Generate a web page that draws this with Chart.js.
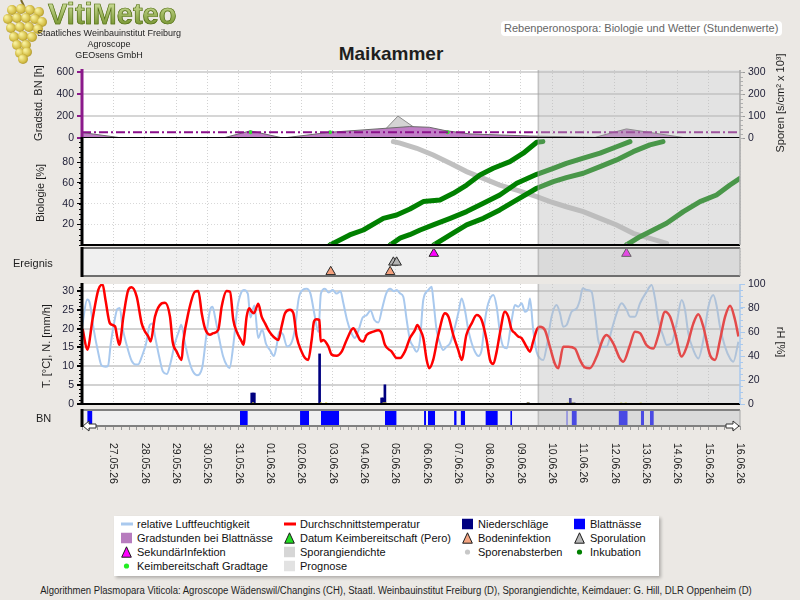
<!DOCTYPE html>
<html lang="de">
<head>
<meta charset="utf-8">
<title>Maikammer - Rebenperonospora</title>
<script src="https://cdn.jsdelivr.net/npm/chart.js@4.4.1/dist/chart.umd.min.js"></script>
<style>
    html, body { margin: 0; padding: 0; background: #ebe8e4; }
    #page { position: relative; width: 800px; height: 600px; overflow: hidden; background: #ebe8e4;
            font-family: "Liberation Sans", Arial, sans-serif; color: #1e1e1e; }
    #page canvas { position: absolute; left: 0; }
    .t { position: absolute; white-space: nowrap; line-height: 1; }
    .ccw { transform: translate(-50%, -50%) rotate(-90deg); }
    .cw { transform: translate(-50%, -50%) rotate(90deg); }
    .mid { transform: translate(0, -50%); }
    .ctr { transform: translate(-50%, -50%); }
    #logo-title { left: 48px; top: 0; font-size: 29px; font-weight: bold;
                  background: linear-gradient(#d6e6a4, #6a8a20); -webkit-background-clip: text; background-clip: text;
                  color: transparent; -webkit-text-stroke: 0.7px #55701a; }
    .logo-sub { font-size: 9px; }
    #subtitle { left: 501px; top: 21px; width: 281px; height: 15px; background: #fff; border-radius: 4px;
                font-size: 11px; color: #666; line-height: 15px; padding-left: 3px; box-sizing: border-box; }
    #title { left: 391px; top: 53px; font-size: 19px; font-weight: bold; }
    .axis-title { font-size: 11px; }
    #legend { position: absolute; left: 114px; top: 516px; width: 545px; height: 60px; background: #fff;
              box-shadow: 2px 2px 3px rgba(0, 0, 0, 0.25); }
    .lg { position: absolute; font-size: 11px; white-space: nowrap; line-height: 1; color: #111; }
    .lg svg { display: block; }
    #footer { left: 396px; top: 591px; font-size: 10px; }
</style>
</head>
<body>
<div id="page">
    <canvas id="grapes" width="50" height="64" style="top:0"></canvas>
    <div class="t" id="logo-title">VitiMeteo</div>
    <div class="t logo-sub ctr" style="left:109px;top:33px">Staatliches Weinbauinstitut Freiburg</div>
    <div class="t logo-sub ctr" style="left:109px;top:44px">Agroscope</div>
    <div class="t logo-sub ctr" style="left:109px;top:55px">GEOsens GmbH</div>
    <div class="t" id="subtitle">Rebenperonospora: Biologie und Wetter (Stundenwerte)</div>
    <div class="t ctr" id="title">Maikammer</div>
    <div id="legend"></div>
    <div class="t" id="footer">Algorithmen Plasmopara Viticola: Agroscope Wädenswil/Changins (CH), Staatl. Weinbauinstitut Freiburg (D), Sporangiendichte, Keimdauer: G. Hill, DLR Oppenheim (D)</div>
</div>
<script>
// x axis: hours since 26.05.26 00:00
const HOURS_TOTAL = 504;
const PROGNOSE_START = 349;
const dayLabels = ['27.05.26', '28.05.26', '29.05.26', '30.05.26', '31.05.26', '01.06.26', '02.06.26',
    '03.06.26', '04.06.26', '05.06.26', '06.06.26', '07.06.26', '08.06.26', '09.06.26', '10.06.26',
    '11.06.26', '12.06.26', '13.06.26', '14.06.26', '15.06.26', '16.06.26'];

// y tick labels
const gradTicks = [0, 200, 400, 600];
const sporTicks = [0, 100, 200, 300];
const bioTicks = [20, 40, 60, 80];
const tempTicks = [0, 5, 10, 15, 20, 25, 30];
const rhTicks = [0, 20, 40, 60, 80, 100];

// Gradstunden bei Blattnaesse [h]
const gradHours = [0, 31, 108, 129, 154, 190, 226, 251, 266, 278, 297, 343, 393, 417, 463, 504];
const gradValues = [50, 0, 0, 65, 0, 52, 83, 104, 98, 68, 37, 18, 6, 83, 0, 0];
const gradThreshold = 52;
// Sporangiendichte [s/cm2 x 10^3]
const sporHours = [226, 242, 266];
const sporValues = [0, 100, 0];
const keimGradHours = [129, 190, 280];

// Inkubation [%]
const inc1Hours = [190, 205, 215.5, 230.8, 241, 251.2, 261.4, 274.2, 284.4, 294.6, 304.8, 315, 327.8, 338, 348.3, 353];
const inc1Values = [0, 9.7, 14.5, 25.8, 29, 34.8, 42, 43.5, 50, 58, 67.8, 74.2, 80.6, 88.8, 99.4, 100];
const inc2Hours = [236, 244, 251, 259, 269, 282, 294.6, 307.4, 320, 333, 348.3, 361, 371, 384, 396.8, 409.5, 419.7];
const inc2Values = [0, 7, 10, 14.5, 19.4, 25.8, 32.3, 40.3, 48.4, 59.7, 68.4, 74.2, 79, 84, 88.8, 95, 100];
const inc3Hours = [269.5, 282, 294.6, 307.4, 320, 333, 348.3, 361, 371, 384, 396.8, 409.5, 422.2, 435, 445];
const inc3Values = [0, 9.7, 19.4, 25.8, 33.9, 43.6, 54.9, 61.3, 65.2, 69.4, 75.8, 82.3, 90.3, 96.8, 100];
const inc4Hours = [417, 427.4, 437.6, 447.8, 460.6, 473.4, 486, 496.3, 504];
const inc4Values = [0, 8, 14.5, 21, 32.3, 42, 48.4, 58, 64.5];
// Sporenabsterben [%]
const dieHours = [238.5, 243.6, 256.4, 269, 282, 294.6, 307.4, 320, 333, 348.3, 358.5, 371, 384, 396.8, 409.5, 422.2, 435, 447.8];
const dieValues = [100, 98.5, 93.6, 87, 79, 71, 64.5, 58, 53, 46.8, 42, 37, 32.3, 25.8, 19.4, 11.3, 6.5, 1.6];

// Ereignisse
const keimDateHours = [190, 236, 269.5, 417];
const bodenHours = [190.5, 236];
const sporulationHours = [238.5, 241];
const sekundaerHours = [269.5, 417];

// Durchschnittstemperatur [°C]
const tempHours = [0.5, 4.1, 8, 12.5, 15.8, 18, 21.4, 25.3, 27.1, 28.6, 31.7, 35.5, 38, 41.9, 45.7, 48.3, 50.8, 52.6,
    55.9, 61, 63.6, 67.4, 69.4, 72.5, 76.3, 77.6, 81.4, 86.5, 89.1, 91.7, 94.2, 98, 100.6, 104.4, 107, 110.8, 113.4,
    115.9, 118.5, 122.3, 123.6, 126.1, 128.2, 129.9, 131.7, 135, 137.6, 140.2, 142.7, 145.3, 147.8, 150.4, 152.9,
    155.5, 159.3, 161.9, 164.4, 168.2, 170.8, 173.3, 175.9, 177.7, 179.7, 181.8, 182.8, 184.8, 188.7, 191.2, 195,
    198.9, 202.7, 207.8, 210.4, 212.9, 215.5, 218, 223.1, 227, 229.5, 232, 237.2, 241, 243.6, 247.4, 251.2, 255,
    256.8, 258.9, 261.4, 264, 266, 269, 272.9, 278, 280.6, 284.4, 288.2, 290.8, 294.4, 298.5, 302.3, 306.1, 309.9,
    312.5, 315, 317.6, 320.1, 323.9, 326.5, 329, 331.6, 334.1, 336.7, 340.5, 343.1, 345.6, 348.2, 350.7, 354.6,
    358.4, 362.3, 364.8, 368.6, 372.5, 377.6, 381.4, 385.2, 389, 394.2, 399.3, 401.8, 406.9, 412, 414.6, 419.7,
    423.5, 427.4, 432.5, 437.6, 441.5, 446.6, 450.4, 454.3, 459.3, 463.2, 468.3, 472.1, 475.9, 481, 484.9, 488.7,
    492.6, 496.4, 500.2, 502.8];
const tempValues = [19.9, 14.4, 22.3, 30.3, 31.7, 27.6, 21.4, 20.6, 17.5, 15.7, 23.2, 30.3, 31, 28.5, 21.4, 19.2, 17.9,
    16.6, 23.2, 26.7, 26.9, 23.2, 16.6, 13.9, 11.7, 16.6, 24.1, 29.8, 30, 24.1, 20.1, 18.4, 18.8, 19.7, 25.9, 30, 29.8,
    22.3, 19.2, 16.6, 15.7, 23.2, 25.4, 24.5, 24.1, 26.6, 23.2, 21.4, 19.7, 18.4, 17.5, 17, 20.6, 24.1, 25, 24.1, 17.9,
    13.9, 12.2, 11.7, 17, 21.9, 22.5, 22.3, 16.6, 17, 15.3, 13.1, 12.8, 13.9, 17, 20.1, 18.7, 17, 16.6, 18.3, 19.2,
    19.6, 18.8, 15.7, 13.9, 12.2, 12.2, 14, 17.5, 19.6, 21, 19.8, 17.5, 11.7, 9.5, 11.7, 18.3, 24.1, 23.2, 18.3, 14.3,
    11.7, 18.3, 21.4, 23.6, 22.3, 17, 11.7, 10.6, 13.9, 18.8, 24.5, 23.2, 19.8, 18.8, 17.9, 17.5, 15.2, 13.9, 16.6,
    19.6, 20.5, 19.6, 15.2, 10.6, 9.5, 15.2, 15.2, 14.7, 11.7, 9.7, 9.5, 12.6, 17.4, 18.3, 16.1, 12.1, 11.2, 15.6,
    19.2, 18.8, 15.6, 14.7, 18.3, 24.5, 23.2, 18.8, 12.6, 15.2, 21.4, 23.8, 20.5, 13, 11.7, 17, 23.2, 26.1, 22.3, 17.9];

// relative Luftfeuchtigkeit [%]
const rhHours = [0, 4, 6, 9, 12, 15, 18, 20, 22, 25, 27, 29, 31, 34, 38, 41, 43, 46, 49, 52, 54, 56, 59, 62, 65, 68,
    71, 74, 76, 79, 82, 85, 88, 92, 95, 98, 100, 102, 105, 108, 111, 113, 116, 119, 122, 124, 127, 129, 132, 135,
    138, 141, 144, 147, 149, 151, 154, 157, 160, 163, 166, 169, 172, 175, 178, 181, 183, 186, 189, 192, 195, 198,
    200, 203, 206, 209, 212, 215, 218, 221, 224, 227, 230, 233, 236, 239, 241, 243.6, 246.1, 248.7, 251.2, 253.8,
    256.3, 258.9, 261.4, 265.3, 267.8, 269.1, 271.6, 274.2, 276.7, 279.3, 281.9, 284.4, 288.2, 290.8, 293.3, 295.9,
    298.5, 301, 303.6, 306.1, 308.7, 311.2, 315.1, 317.6, 320.2, 322.7, 325.3, 329.1, 331.6, 334.2, 336.7, 339.3,
    341.8, 343.1, 345.6, 348.2, 350.8, 353.3, 355.9, 359.7, 363.5, 366.1, 368.6, 371.2, 375, 378.9, 381.4, 383.5,
    386.5, 390.3, 392.9, 395.4, 398, 401.8, 405.7, 409.5, 413.3, 417.2, 419.7, 423.6, 427.4, 432.5, 436.3, 438.9,
    441.4, 445.3, 447.8, 451.6, 455.5, 459.3, 461.9, 464.4, 468.3, 472.1, 475.9, 479.8, 483.6, 486.2, 488.7, 492.5,
    496.4, 498.9, 502.8];
const rhValues = [64, 87, 84, 62, 45, 32, 31, 32, 50, 70, 79, 80, 64, 50, 36, 33, 33, 40, 50, 66, 67, 56, 40, 27, 25,
    35, 50, 60, 66, 50, 36, 27, 24, 30, 55, 78, 81, 72, 55, 40, 32, 30, 50, 80, 93, 95, 92, 72, 82, 55, 62, 50, 45, 40,
    48, 60, 58, 48, 50, 62, 88, 95, 96, 92, 75, 60, 92, 96, 93, 95, 92, 94, 85, 70, 60, 55, 62, 72, 74, 78, 70, 68, 80,
    92, 96, 94, 95, 92.2, 89.4, 70, 53.3, 47.8, 43.6, 53.3, 86.7, 95, 97.8, 86.7, 61.7, 50.6, 45, 47.8, 50.6, 58.9,
    75.6, 88, 78.3, 61.7, 50.6, 43.6, 40, 45, 70, 83.9, 90.8, 81.1, 58.9, 47.8, 46.4, 70, 82.5, 81.1, 83.9, 76.9, 79.7,
    88, 61.7, 43.6, 38, 36.7, 47.8, 72.8, 82.5, 75.6, 64.4, 65.8, 76.9, 79.7, 86.7, 96.4, 95, 93.6, 75.6, 53.3, 47.8,
    47.8, 61.7, 75.6, 83.9, 78.3, 72.8, 72.8, 83.9, 93.6, 99.2, 88, 70, 56.4, 49.2, 50.6, 67.5, 86.7, 78.3, 58.9, 45,
    38, 53.3, 81.1, 90.8, 81.1, 64.4, 47.8, 38, 35.3, 51.9];

// Niederschlaege [mm/h]
const rainHours = [130, 131, 132, 182, 229.5, 230.5, 232, 341.7, 374, 375, 376, 377];
const rainValues = [2.9, 2.9, 2.9, 13.3, 1.6, 1.6, 5.1, 0.4, 1.5, 0.3, 0.3, 0.3];
const keimMarkHours = [131, 183, 187, 231, 232.5, 341.7, 372, 376, 413, 416.5, 428];

// Blattnaesse, intervals in hours
const bnFrom = [4, 121, 167, 183, 232, 262, 265, 285, 290, 309, 328, 371, 375, 411, 428, 435];
const bnTo = [8, 127, 174, 197, 241, 263.5, 270.5, 287, 293.5, 318.5, 329.5, 372, 379, 418, 430.5, 438];

const FONT = '"Liberation Sans", Arial, sans-serif';
Chart.defaults.font.family = FONT;
Chart.defaults.font.size = 10.5;
Chart.defaults.color = '#1c1c34';
Chart.defaults.elements.point.radius = 0;

const page = document.getElementById('page');
const pts = (hours, values) => hours.map((h, i) => ({x: h, y: values[i]}));
const flat = (hours, value) => hours.map(h => ({x: h, y: value}));
const fixedTicks = list => s => { s.ticks = list.map(value => ({value})); };

// background, prognose overlay, minor ticks and axis frame for every panel
const panelPlugin = {
    id: 'panel',
    defaults: {background: '#ffffff', frame: {}, minor: []},
    beforeDraw(chart, args, opts) {
        const {ctx, chartArea: a} = chart;
        ctx.save();
        ctx.fillStyle = opts.background;
        ctx.fillRect(a.left, a.top, a.width, a.height);
        ctx.restore();
    },
    afterDatasetsDraw(chart, args, opts) {
        const {ctx, chartArea: a} = chart;
        const px = chart.scales.x.getPixelForValue(PROGNOSE_START);
        ctx.save();
        ctx.fillStyle = 'rgba(185, 185, 185, 0.4)';
        ctx.fillRect(px, a.top, a.right - px, a.height);
        ctx.fillStyle = 'rgba(150, 150, 150, 0.45)';
        ctx.fillRect(px, a.top, 1.5, a.height);

        opts.minor.forEach(m => {
            const s = chart.scales[m.axis];
            const x0 = s.position === 'left' ? a.left : a.right;
            const dir = s.position === 'left' ? -1 : 1;
            ctx.strokeStyle = m.color;
            ctx.lineWidth = 1;
            for (let v = s.min; v <= s.max + 1e-9; v += m.step) {
                const y = Math.round(s.getPixelForValue(v)) + 0.5;
                ctx.beginPath();
                ctx.moveTo(x0, y);
                ctx.lineTo(x0 + dir * m.length, y);
                ctx.stroke();
            }
        });

        const f = opts.frame;
        const line = (side, x1, y1, x2, y2) => {
            if (!f[side]) return;
            ctx.strokeStyle = f[side][0];
            ctx.lineWidth = f[side][1];
            ctx.beginPath();
            ctx.moveTo(x1, y1);
            ctx.lineTo(x2, y2);
            ctx.stroke();
        };
        line('top', a.left, a.top, a.right, a.top);
        line('bottom', a.left, a.bottom, a.right, a.bottom);
        line('right', a.right, a.top, a.right, a.bottom);
        line('left', a.left, a.top - 1, a.left, a.bottom + 1);
        ctx.restore();
    }
};
Chart.register(panelPlugin);

const dateLabelPlugin = {
    id: 'dateLabels',
    afterDraw(chart) {
        const {ctx, chartArea} = chart;
        const x = chart.scales.x;
        ctx.save();
        ctx.font = '10.5px ' + FONT;
        ctx.fillStyle = '#1c1c1c';
        ctx.textBaseline = 'middle';
        dayLabels.forEach((label, i) => {
            ctx.save();
            ctx.translate(x.getPixelForValue(24 * (i + 1)), chartArea.bottom + 17);
            ctx.rotate(Math.PI / 2);
            ctx.fillText(label, 0, 0);
            ctx.restore();
        });
        ctx.restore();
    }
};

function dayAxis() {
    return {
        type: 'linear', min: 0, max: HOURS_TOTAL, offset: false,
        afterFit: s => { s.height = 0; },
        ticks: {display: false, stepSize: 24},
        grid: {color: '#d2d2d2', lineWidth: 1, drawTicks: false, offset: false},
        border: {display: false, dash: [1, 2]}
    };
}

function makePanel(top, height, padding, datasets, scales, panel, plugins) {
    const canvas = document.createElement('canvas');
    canvas.width = 800;
    canvas.height = height;
    canvas.style.top = top + 'px';
    page.appendChild(canvas);
    return new Chart(canvas, {
        type: 'line',
        data: {datasets},
        options: {
            responsive: false,
            animation: false,
            events: [],
            layout: {padding},
            plugins: {legend: {display: false}, tooltip: {enabled: false}, panel},
            scales
        },
        plugins: plugins || []
    });
}

// Gradstunden / Sporangiendichte
makePanel(58, 90, {top: 12, bottom: 10, left: 0, right: 0}, [
    {data: [{x: 0, y: gradThreshold}, {x: HOURS_TOTAL, y: gradThreshold}], borderColor: '#8b0f8b',
        borderWidth: 2, borderDash: [9, 3, 2, 3]},
    {data: flat(keimGradHours, gradThreshold), showLine: false, pointRadius: 2, pointBackgroundColor: '#33dd33',
        pointBorderWidth: 0},
    {data: pts(gradHours, gradValues), fill: 'origin', backgroundColor: '#c07fc6', borderColor: '#6c6c6c', borderWidth: 1},
    {data: pts(sporHours, sporValues), yAxisID: 'y1', fill: 'origin', backgroundColor: '#d4d4d4',
        borderColor: '#8c8c8c', borderWidth: 1}
], {
    x: dayAxis(),
    y: {
        position: 'left', min: 0, max: 620,
        afterFit: s => { s.width = 82; },
        afterBuildTicks: fixedTicks(gradTicks),
        grid: {color: c => c.tick.value > 0 ? '#d6d6d6' : 'transparent', lineWidth: 2,
            tickColor: '#8b1a8b', tickLength: 5, tickWidth: 2},
        border: {display: false}
    },
    y1: {
        position: 'right', min: 0, max: 310,
        afterFit: s => { s.width = 60; },
        afterBuildTicks: fixedTicks(sporTicks),
        grid: {drawOnChartArea: false, tickColor: '#9a9a9a', tickLength: 5},
        border: {display: false}
    }
}, {
    frame: {left: ['#8b1a8b', 3], bottom: ['#000', 2], right: ['#a8a8a8', 1.5]},
    minor: [{axis: 'y1', step: 20, length: 3, color: '#b0b0b0'}]
});

// Biologie
const incubationStyle = {borderColor: '#008000', borderWidth: 5, borderCapStyle: 'round', borderJoinStyle: 'round'};
makePanel(128, 127, {top: 10, bottom: 10, left: 0, right: 60}, [
    {data: flat(keimDateHours, 0), showLine: false, pointStyle: 'triangle', pointRadius: 3,
        pointBackgroundColor: '#cc33cc', pointBorderColor: '#22aa22', pointBorderWidth: 1},
    {data: pts(inc1Hours, inc1Values), ...incubationStyle},
    {data: pts(inc2Hours, inc2Values), ...incubationStyle},
    {data: pts(inc3Hours, inc3Values), ...incubationStyle},
    {data: pts(inc4Hours, inc4Values), ...incubationStyle},
    {data: pts(dieHours, dieValues), borderColor: '#c0c0c0', borderWidth: 5, borderCapStyle: 'round'}
], {
    x: dayAxis(),
    y: {
        position: 'left', min: 0, max: 103.5,
        afterFit: s => { s.width = 82; },
        afterBuildTicks: fixedTicks(bioTicks),
        grid: {color: '#d8d8d8', tickColor: '#000', tickLength: 5},
        border: {display: false, dash: [1, 2]}
    }
}, {
    frame: {left: ['#000', 3], bottom: ['#000', 2], right: ['#a8a8a8', 1.5]},
    minor: [{axis: 'y', step: 5, length: 3, color: '#000'}]
});

// Ereignis
const eventStyle = {showLine: false, pointStyle: 'triangle', pointRadius: 5.5, pointBorderColor: '#2a2a2a', pointBorderWidth: 1};
makePanel(240, 44, {top: 8, bottom: 8, left: 82, right: 60}, [
    {data: flat(sekundaerHours, 3.2), pointBackgroundColor: '#ff00ff', ...eventStyle},
    {data: flat(sporulationHours, 1.95), pointBackgroundColor: '#b4b4b4', ...eventStyle},
    {data: flat(bodenHours, 0.6), pointBackgroundColor: '#f4a07c', ...eventStyle}
], {
    x: dayAxis(),
    y: {display: false, min: 0, max: 4}
}, {background: '#f0f0f0', frame: {left: ['#000', 3], top: ['#6e6e6e', 2], bottom: ['#6e6e6e', 2], right: ['#a8a8a8', 1]}});

// Wetter
makePanel(274, 140, {top: 10, bottom: 10, left: 0, right: 0}, [
    {data: flat(keimMarkHours, 0.15), showLine: false, pointStyle: 'rect', pointRadius: 1.5,
        pointBackgroundColor: '#d8d040', pointBorderWidth: 0},
    {type: 'bar', data: pts(rainHours, rainValues), backgroundColor: '#000080', barThickness: 2, grouped: false},
    {data: pts(tempHours, tempValues), borderColor: '#ff0000', borderWidth: 2.5, cubicInterpolationMode: 'monotone'},
    {data: pts(rhHours, rhValues), yAxisID: 'y1', borderColor: '#a9c9ee', borderWidth: 2, cubicInterpolationMode: 'monotone'}
], {
    x: dayAxis(),
    y: {
        position: 'left', min: 0, max: 31.85,
        afterFit: s => { s.width = 82; },
        afterBuildTicks: fixedTicks(tempTicks),
        grid: {color: c => c.tick.value > 0 ? '#d2d2d2' : 'transparent', lineWidth: 2, tickColor: '#000', tickLength: 5},
        border: {display: false}
    },
    y1: {
        position: 'right', min: 0, max: 100,
        afterFit: s => { s.width = 60; },
        afterBuildTicks: fixedTicks(rhTicks),
        grid: {drawOnChartArea: false, tickColor: '#a9c9ee', tickLength: 5},
        border: {display: false}
    }
}, {
    frame: {left: ['#000', 3], bottom: ['#000', 2], right: ['#a9c9ee', 1.5]},
    minor: [{axis: 'y', step: 1, length: 3, color: '#000'}, {axis: 'y1', step: 5, length: 3, color: '#a9c9ee'}]
});

// Blattnaesse
const bnPoints = [];
bnFrom.forEach((from, i) => {
    bnPoints.push({x: from, y: 1}, {x: bnTo[i], y: 1}, {x: bnTo[i], y: null});
});
makePanel(400, 100, {top: 10, bottom: 69, left: 82, right: 60}, [
    {data: bnPoints, fill: 'origin', backgroundColor: '#0000ff', borderWidth: 0, spanGaps: false}
], {
    x: {
        type: 'linear', min: 0, max: HOURS_TOTAL, offset: false,
        afterFit: s => { s.height = 5; },
        ticks: {display: false, stepSize: 6},
        grid: {drawOnChartArea: false, drawTicks: true, tickLength: 4, tickColor: '#9a9a9a', offset: false},
        border: {display: false}
    },
    y: {display: false, min: 0, max: 1}
}, {background: '#f0f0f0', frame: {left: ['#000', 3], top: ['#808080', 2], bottom: ['#808080', 2], right: ['#a8a8a8', 1]}},
[dateLabelPlugin]);

// texts around the panels
function addText(text, left, top, cls) {
    const el = document.createElement('div');
    el.className = 't ' + cls;
    el.textContent = text;
    el.style.left = left + 'px';
    el.style.top = top + 'px';
    page.appendChild(el);
    return el;
}
addText('Gradstd. BN [h]', 38, 103, 'axis-title ccw');
addText('Sporen [s/cm² x 10³]', 780, 103, 'axis-title ccw');
addText('Biologie [%]', 40, 193, 'axis-title ccw');
addText('Ereignis', 13, 263, 'axis-title mid');
addText('T. [°C], N. [mm/h]', 46, 346, 'axis-title ccw');
addText('rH [%]', 780, 342, 'axis-title cw');
addText('BN', 36, 418, 'axis-title mid');

// scroll arrows of the time bar
const arrows = document.createElement('div');
arrows.innerHTML =
    '<svg width="800" height="12" style="position:absolute;left:0;top:420px">' +
    '<polygon points="83,6 89,1 89,4 96,4 96,8 89,8 89,11" fill="#fff" stroke="#333" stroke-width="1"/>' +
    '<polygon points="739,6 733,1 733,4 726,4 726,8 733,8 733,11" fill="#fff" stroke="#333" stroke-width="1"/></svg>';
page.appendChild(arrows);

// legend
const legendItems = [
    ['line', '#a9c9ee', 'relative Luftfeuchtigkeit'], ['line', '#ff0000', 'Durchschnittstemperatur'],
    ['square', '#000080', 'Niederschläge'], ['square', '#0000ff', 'Blattnässe'],
    ['square', '#b77cbe', 'Gradstunden bei Blattnässe'], ['tri', '#22dd22', 'Datum Keimbereitschaft (Pero)'],
    ['tri', '#f4a582', 'Bodeninfektion'], ['tri', '#b8b8b8', 'Sporulation'],
    ['tri', '#ff00ff', 'SekundärInfektion'], ['square', '#d6d6d6', 'Sporangiendichte'],
    ['dot', '#c8c8c8', 'Sporenabsterben'], ['dot', '#008000', 'Inkubation'],
    ['dot', '#22ee22', 'Keimbereitschaft Gradtage'], ['square', '#e2e2e2', 'Prognose']
];
const legendMarkerX = [7, 170, 348, 460];
const legendTextX = [23, 186, 364, 476];
const legendRowY = [8, 22, 36, 50];

function markerSvg(kind, color) {
    if (kind === 'line') return `<svg width="12" height="10"><line x1="0" y1="5" x2="12" y2="5" stroke="${color}" stroke-width="3"/></svg>`;
    if (kind === 'square') return `<svg width="11" height="11"><rect width="11" height="11" fill="${color}"/></svg>`;
    if (kind === 'tri') return `<svg width="11" height="12"><polygon points="5.5,0.8 10.3,11.2 0.7,11.2" fill="${color}" stroke="#1a1a1a" stroke-width="1"/></svg>`;
    return `<svg width="11" height="11"><circle cx="5.5" cy="5.5" r="2.6" fill="${color}"/></svg>`;
}

const legend = document.getElementById('legend');
legendItems.forEach(([kind, color, label], i) => {
    const col = i % 4;
    const row = Math.floor(i / 4);
    const marker = document.createElement('div');
    marker.className = 'lg mid';
    marker.style.left = legendMarkerX[col] + 'px';
    marker.style.top = legendRowY[row] + 'px';
    marker.innerHTML = markerSvg(kind, color);
    legend.appendChild(marker);
    const text = document.createElement('div');
    text.className = 'lg mid';
    text.style.left = legendTextX[col] + 'px';
    text.style.top = legendRowY[row] + 'px';
    text.textContent = label;
    legend.appendChild(text);
});

// footer squeezed to the width it has in the original
const footer = document.getElementById('footer');
footer.style.transform = `translate(-50%, -50%) scaleX(${712 / footer.offsetWidth})`;

// grape cluster of the logo
(function drawGrapes() {
    const c = document.getElementById('grapes').getContext('2d');
    const berries = [[12, 10], [21, 9], [30, 10], [39, 12], [8, 19], [17, 18], [26, 18], [35, 19], [42, 22],
        [11, 28], [20, 27], [29, 27], [38, 29], [14, 37], [23, 36], [32, 37], [17, 45], [26, 45], [20, 53], [27, 52], [23, 59]];
    c.strokeStyle = '#7a6a2a';
    c.lineWidth = 2;
    c.beginPath();
    c.moveTo(24, 6);
    c.lineTo(21, 0);
    c.stroke();
    berries.forEach(([x, y]) => {
        const g = c.createRadialGradient(x - 2, y - 2, 1, x, y, 6);
        g.addColorStop(0, '#f6ee9a');
        g.addColorStop(0.6, '#d6c048');
        g.addColorStop(1, '#9c8424');
        c.fillStyle = g;
        c.beginPath();
        c.arc(x, y, 5, 0, Math.PI * 2);
        c.fill();
    });
})();
</script>
</body>
</html>
